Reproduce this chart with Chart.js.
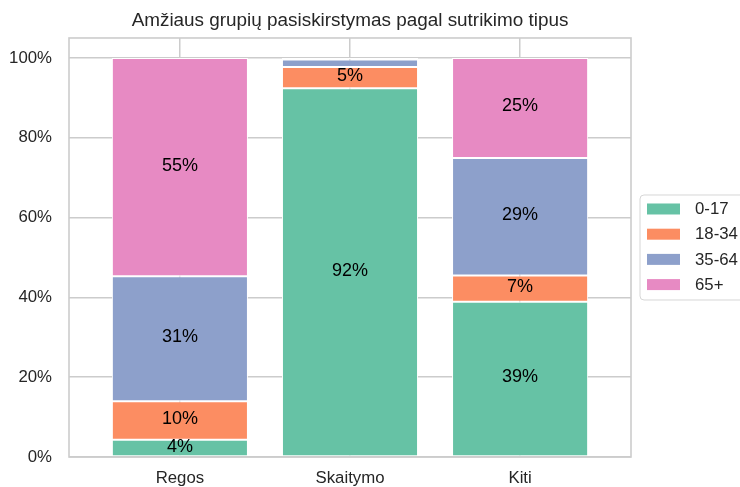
<!DOCTYPE html>
<html lang="lt">
<head>
    <meta charset="UTF-8">
    <title>Amžiaus grupių pasiskirstymas pagal sutrikimo tipus</title>
    <script src="https://cdn.jsdelivr.net/npm/chart.js"></script>
    <style>
        html, body { margin: 0; padding: 0; background: #fff; }
    </style>
</head>
<body>
    <canvas id="myChart" width="740" height="487"></canvas>

    <script>
        // duomenys (procentai kiekvienoje sutrikimo grupėje)
        const categories = ['Regos', 'Skaitymo', 'Kiti'];
        const ageGroups = ['0-17', '18-34', '35-64', '65+'];
        const age0to17 = [4.3, 92.4, 38.9];
        const age18to34 = [9.7, 5.3, 6.6];
        const age35to64 = [31.3, 1.9, 29.4];
        const age65plus = [54.7, 0.4, 25.1];
        const yTicks = [0, 20, 40, 60, 80, 100];

        const colors = ['#66c2a5', '#fc8d62', '#8da0cb', '#e78ac3'];
        const seriesValues = [age0to17, age18to34, age35to64, age65plus];

        const FONT = '"Liberation Sans", Arial, sans-serif';
        const TEXT = '#262626';
        const GRID = '#cccccc';

        const datasets = ageGroups.map((name, k) => ({
            label: name,
            data: seriesValues[k].map((v, i) => ({ x: i, y: v })),
            backgroundColor: colors[k],
            borderColor: '#ffffff',
            borderWidth: 1,
            borderSkipped: false,
            barPercentage: 0.8,
            categoryPercentage: 1.0
        }));

        // rėmelis aplink grafiko sritį
        const frame = {
            id: 'frame',
            afterDatasetsDraw(chart) {
                const { ctx, chartArea: a } = chart;
                ctx.save();
                ctx.strokeStyle = GRID;
                ctx.lineWidth = 1.6;
                ctx.strokeRect(a.left, a.top, a.right - a.left, a.bottom - a.top);
                ctx.restore();
            }
        };

        // procentų užrašai ant stulpelių
        const barLabels = {
            id: 'barLabels',
            afterDatasetsDraw(chart) {
                const ctx = chart.ctx;
                ctx.save();
                ctx.font = '18px ' + FONT;
                ctx.fillStyle = '#000';
                ctx.textAlign = 'center';
                ctx.textBaseline = 'middle';
                chart.data.datasets.forEach((ds, di) => {
                    const meta = chart.getDatasetMeta(di);
                    meta.data.forEach((bar, i) => {
                        const v = ds.data[i].y;
                        if (v < 3) return;
                        ctx.fillText(Math.round(v) + '%', bar.x, (bar.y + bar.base) / 2 - 1.5);
                    });
                });
                ctx.restore();
            }
        };

        // legenda dešinėje, kaip matplotlib
        const sideLegend = {
            id: 'sideLegend',
            afterDraw(chart) {
                const { ctx, chartArea: a } = chart;
                const left = a.right + 9;
                const mid = (a.top + a.bottom) / 2;
                const top = mid - 52.5;
                const step = 25.2;
                ctx.save();
                ctx.beginPath();
                ctx.roundRect(left, top, 120, 105, 4);
                ctx.fillStyle = 'rgba(255,255,255,0.8)';
                ctx.fill();
                ctx.strokeStyle = '#d6d6d6';
                ctx.lineWidth = 1;
                ctx.stroke();
                ctx.font = '16.8px ' + FONT;
                ctx.textBaseline = 'middle';
                ctx.textAlign = 'left';
                chart.data.datasets.forEach((ds, k) => {
                    const cy = top + 14 + k * step;
                    ctx.fillStyle = ds.backgroundColor;
                    ctx.fillRect(left + 7, cy - 5.5, 33, 11);
                    ctx.fillStyle = TEXT;
                    ctx.fillText(ds.label, left + 55, cy + 0.5);
                });
                ctx.restore();
            }
        };

        new Chart(document.getElementById('myChart'), {
            type: 'bar',
            data: { datasets: datasets },
            plugins: [frame, barLabels, sideLegend],
            options: {
                responsive: false,
                animation: false,
                layout: { padding: { left: 0, right: 109, top: 0, bottom: 0 } },
                plugins: {
                    legend: { display: false },
                    tooltip: { enabled: false },
                    title: {
                        display: true,
                        text: 'Amžiaus grupių pasiskirstymas pagal sutrikimo tipus',
                        fullSize: false,
                        color: TEXT,
                        font: { family: FONT, size: 18.9, weight: 'normal', lineHeight: 1.2 },
                        padding: { top: 9, bottom: 6.3 }
                    }
                },
                scales: {
                    x: {
                        type: 'linear',
                        stacked: true,
                        offset: false,
                        min: -0.652,
                        max: 2.652,
                        afterBuildTicks: (scale) => {
                            scale.ticks = categories.map((c, i) => ({ value: i }));
                        },
                        afterFit: (scale) => { scale.height = 30; },
                        ticks: {
                            callback: (v) => categories[v],
                            color: TEXT,
                            font: { family: FONT, size: 16.8 },
                            padding: 11,
                            maxRotation: 0
                        },
                        grid: { color: GRID, lineWidth: 1.5, drawTicks: false, offset: false },
                        border: { display: false }
                    },
                    y: {
                        stacked: true,
                        min: 0,
                        max: 105,
                        afterBuildTicks: (scale) => {
                            scale.ticks = yTicks.map(v => ({ value: v }));
                        },
                        afterFit: (scale) => { scale.width = 69; },
                        ticks: {
                            callback: (v) => v + '%',
                            color: TEXT,
                            font: { family: FONT, size: 16.8 },
                            padding: 17
                        },
                        grid: { color: GRID, lineWidth: 1.5, drawTicks: false },
                        border: { display: false }
                    }
                }
            }
        });
    </script>
</body>
</html>
